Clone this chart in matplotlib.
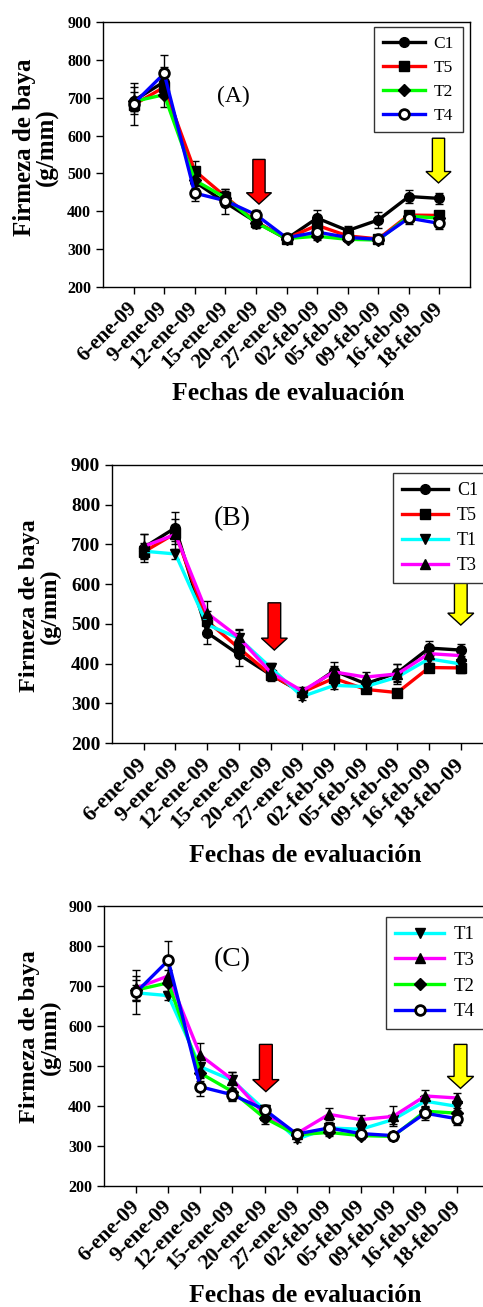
'''
Firmeza de baya por fecha de evaluación, tres paneles (A, B, C)
'''
import matplotlib
matplotlib.use('Agg')
import matplotlib.pyplot as plt

plt.rcParams['font.family'] = ['Liberation Serif', 'DejaVu Serif']

fechas = ['6-ene-09', '9-ene-09', '12-ene-09', '15-ene-09', '20-ene-09',
          '27-ene-09', '02-feb-09', '05-feb-09', '09-feb-09', '16-feb-09',
          '18-feb-09']

# medias (g/mm) por tratamiento
c1 = [692, 742, 478, 423, 372, 327, 382, 349, 377, 439, 434]
t1 = [683, 676, 498, 464, 390, 317, 345, 342, 366, 412, 399]
t2 = [690, 708, 482, 436, 370, 328, 334, 326, 324, 387, 382]
t3 = [695, 725, 527, 466, 378, 331, 379, 366, 374, 425, 420]
t4 = [684, 764, 448, 428, 391, 330, 345, 331, 326, 382, 368]
t5 = [681, 728, 507, 439, 372, 328, 363, 335, 327, 390, 389]

# errores estándar
c1_err = [35, 40, 28, 30, 15, 8, 22, 12, 22, 18, 15]
t1_err = [20, 12, 25, 20, 12, 8, 10, 10, 12, 15, 12]
t2_err = [25, 32, 20, 22, 15, 8, 10, 8, 8, 12, 12]
t3_err = [30, 40, 30, 20, 15, 8, 15, 12, 25, 15, 12]
t4_err = [55, 48, 22, 15, 12, 8, 14, 10, 10, 16, 16]
t5_err = [15, 20, 25, 20, 12, 8, 12, 10, 8, 12, 12]

estilos = {
    'C1': dict(color='black', marker='o', mfc='black'),
    'T5': dict(color='#FF0000', marker='s', mfc='black'),
    'T2': dict(color='#00FF00', marker='D', mfc='black'),
    'T4': dict(color='#0000FF', marker='o', mfc='white'),
    'T1': dict(color='#00FFFF', marker='v', mfc='black'),
    'T3': dict(color='#FF00FF', marker='^', mfc='black'),
}
datos = {'C1': (c1, c1_err), 'T1': (t1, t1_err), 'T2': (t2, t2_err),
         'T3': (t3, t3_err), 'T4': (t4, t4_err), 'T5': (t5, t5_err)}

W, H = 483, 1307
fig = plt.figure(figsize=(W / 100, H / 100), dpi=100)


def px_rect(left, top, right, bottom):
    return [left / W, (H - bottom) / H, (right - left) / W, (bottom - top) / H]


paneles = [
    dict(letra='(A)', series=['C1', 'T5', 'T2', 'T4'],
         rect=px_rect(103, 22, 470, 287), letra_xy=(3.26, 703), letra_fs=17,
         flechas=[(4.1, 537, 419, '#FF0000'), (9.97, 593, 475, '#FFFF00')],
         ytick_fs=11.5, xtick_fs=15, ylab_fs=18, ylab_xy=(-0.183, 0.528),
         xlab_xy=(288, 393), leg_fs=12.5, leg_anchor=(0.738, 0.981),
         leg_hl=2.45),
    dict(letra='(B)', series=['C1', 'T5', 'T1', 'T3'],
         rect=px_rect(112, 465, 492.5, 743), letra_xy=(2.8, 766), letra_fs=20,
         flechas=[(4.12, 553, 434, '#FF0000'), (10.0, 606, 497, '#FFFF00')],
         ytick_fs=14, xtick_fs=16, ylab_fs=17.5, ylab_xy=(-0.189, 0.493),
         xlab_xy=(305, 855), leg_fs=13, leg_anchor=(0.7385, 0.971),
         leg_hl=2.55),
    dict(letra='(C)', series=['T1', 'T3', 'T2', 'T4'],
         rect=px_rect(104, 906, 489.4, 1186), letra_xy=(3.0, 765), letra_fs=20,
         flechas=[(4.04, 554, 436, '#FF0000'), (10.1, 554, 444, '#FFFF00')],
         ytick_fs=11.5, xtick_fs=15.5, ylab_fs=17.5, ylab_xy=(-0.166, 0.532),
         xlab_xy=(305, 1295), leg_fs=13.5, leg_anchor=(0.7317, 0.961),
         leg_hl=2.6),
]

x = list(range(len(fechas)))

for p in paneles:
    ax = fig.add_axes(p['rect'])
    for nombre in p['series']:
        y, err = datos[nombre]
        est = estilos[nombre]
        ax.errorbar(x, y, yerr=err, fmt='none', ecolor='black',
                    elinewidth=1, capsize=3, capthick=1, zorder=2)
        ax.plot(x, y, color=est['color'], lw=2.4, marker=est['marker'],
                ms=7 if est['marker'] != 'D' else 6, mfc=est['mfc'],
                mec='black', mew=2 if est['mfc'] == 'white' else 1,
                label=nombre, zorder=3)

    for xa, top, tip, color in p['flechas']:
        ax.arrow(xa, top, 0, tip - top, width=0.4, head_width=0.82,
                 head_length=30, length_includes_head=True,
                 fc=color, ec='black', lw=1, zorder=4)

    ax.text(p['letra_xy'][0], p['letra_xy'][1], p['letra'],
            fontsize=p['letra_fs'], ha='center', va='center')

    ax.set_xlim(-1, 11)
    ax.set_ylim(200, 900)
    ax.set_yticks(range(200, 1000, 100))
    ax.set_xticks(x)
    ax.set_xticklabels(fechas, rotation=45, ha='right', va='center',
                       rotation_mode='anchor', fontweight='bold',
                       fontsize=p['xtick_fs'])
    for lab in ax.get_yticklabels():
        lab.set_fontweight('bold')
        lab.set_fontsize(p['ytick_fs'])
    ax.tick_params(axis='both', direction='out', length=5, width=1)
    ax.tick_params(axis='x', pad=8)
    for s in ax.spines.values():
        s.set_linewidth(1)

    ax.text(p['ylab_xy'][0], p['ylab_xy'][1], 'Firmeza de baya\n(g/mm)',
            transform=ax.transAxes, rotation=90, ha='center', va='center',
            multialignment='center', fontsize=p['ylab_fs'], fontweight='bold',
            linespacing=1.0)
    fig.text(p['xlab_xy'][0] / W, 1 - p['xlab_xy'][1] / H,
             'Fechas de evaluación', ha='center', va='center',
             fontsize=18.5, fontweight='bold')

    leg = ax.legend(loc='upper left', bbox_to_anchor=p['leg_anchor'],
                    borderaxespad=0, fontsize=p['leg_fs'],
                    handlelength=p['leg_hl'], fancybox=False,
                    framealpha=1, edgecolor='#333333', borderpad=0.5,
                    labelspacing=0.45, handletextpad=0.5)
    leg.get_frame().set_linewidth(1)

fig.savefig('out.png', dpi=100)
